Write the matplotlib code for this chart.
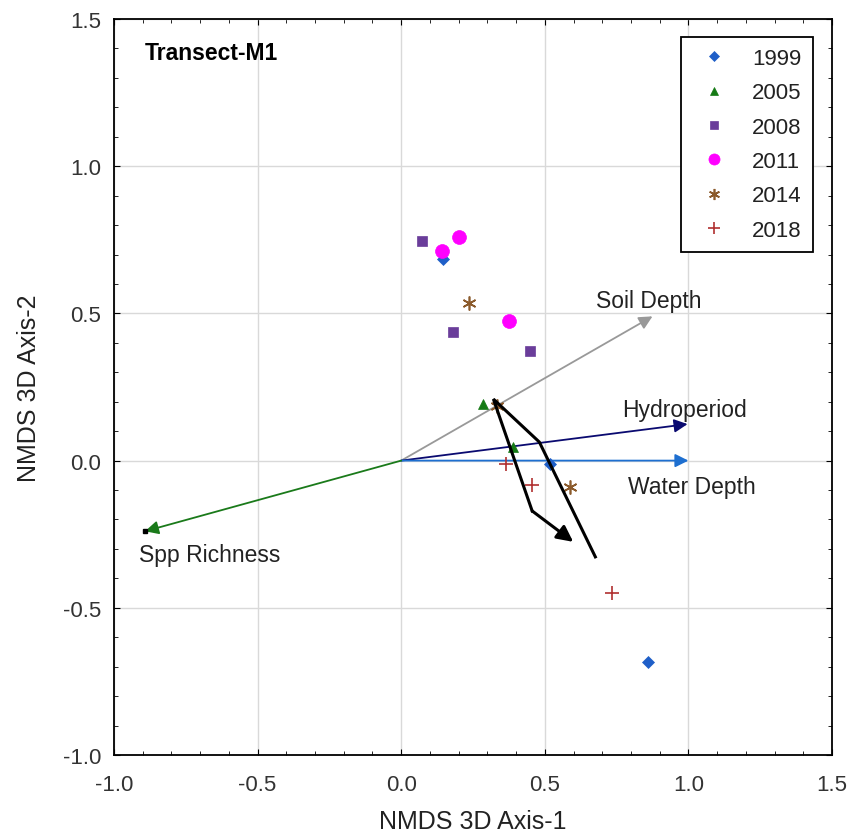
import matplotlib
matplotlib.use("Agg")
import matplotlib.pyplot as plt
from matplotlib.ticker import MultipleLocator

plt.rcParams['font.family'] = ['Liberation Sans', 'DejaVu Sans']
plt.rcParams['axes.unicode_minus'] = False

# ---- data ----
years = ['1999', '2005', '2008', '2011', '2014', '2018']
x_1999 = [0.146, 0.519, 0.861]
y_1999 = [0.684, -0.012, -0.684]
x_2005 = [0.286, 0.390]
y_2005 = [0.192, 0.046]
x_2008 = [0.073, 0.181, 0.449]
y_2008 = [0.746, 0.437, 0.372]
x_2011 = [0.143, 0.202, 0.376]
y_2011 = [0.712, 0.760, 0.474]
x_2014 = [0.237, 0.334, 0.589]
y_2014 = [0.535, 0.186, -0.090]
x_2018 = [0.366, 0.456, 0.735]
y_2018 = [-0.011, -0.083, -0.450]

vec_names = ['Soil Depth', 'Hydroperiod', 'Water Depth', 'Spp Richness']
vec_x = [0.875, 0.997, 1.0, -0.892]
vec_y = [0.490, 0.124, 0.0, -0.240]
label_x = [0.68, 0.77, 0.79, -0.913]
label_y = [0.543, 0.175, -0.087, -0.320]

traj_x = [0.676, 0.481, 0.321, 0.456, 0.599]
traj_y = [-0.327, 0.063, 0.209, -0.171, -0.276]

# ---- styles ----
colors = ['#1f5fc8', '#157a15', '#6a3d9a', '#ff00ff', '#8b5a2b', '#b03030']
markers = ['D', '^', 's', 'o', (6, 2, 0), '+']
msizes = [6, 7, 7, 10, 10, 10]
vec_colors = ['#999999', '#0a0a70', '#1e6fd0', '#1a7a1a']

fig = plt.figure(figsize=(8.52, 8.37), dpi=100)
ax = fig.add_axes([114/852, 1-756/837, (832-114)/852, (756-20)/837])

ax.set_xlim(-1.0, 1.5)
ax.set_ylim(-1.0, 1.5)
ax.xaxis.set_major_locator(MultipleLocator(0.5))
ax.yaxis.set_major_locator(MultipleLocator(0.5))
ax.xaxis.set_minor_locator(MultipleLocator(0.1))
ax.yaxis.set_minor_locator(MultipleLocator(0.1))
ax.grid(True, which='major', color='#d9d9d9', linewidth=1.0)
ax.set_axisbelow(True)
ax.tick_params(which='both', direction='in', top=True, right=True,
               labelsize=16, labelcolor='#333333')
ax.tick_params(axis='x', which='both', pad=14)
ax.tick_params(axis='y', which='both', pad=9)
ax.tick_params(which='major', length=4)
ax.tick_params(which='minor', length=3)
for s in ax.spines.values():
    s.set_linewidth(1.3)

# vectors
for name, vx, vy, lx, ly, c in zip(vec_names, vec_x, vec_y, label_x, label_y, vec_colors):
    ax.annotate('', xy=(vx, vy), xytext=(0, 0),
                arrowprops=dict(arrowstyle='-|>', color=c, lw=1.3,
                                mutation_scale=20, shrinkA=0, shrinkB=0))
    ax.text(lx, ly, name, fontsize=16.5, color='#222222', ha='left', va='center')
ax.plot([vec_x[3]], [vec_y[3]], marker='s', color='black', ms=3, zorder=5)

# points
xs = [x_1999, x_2005, x_2008, x_2011, x_2014, x_2018]
ys = [y_1999, y_2005, y_2008, y_2011, y_2014, y_2018]
for yr, x, y, c, m, s in zip(years, xs, ys, colors, markers, msizes):
    ax.plot(x, y, linestyle='none', marker=m, color=c, ms=s,
            markeredgewidth=1.2 if m in ['+', (6, 2, 0)] else 0.5, label=yr, zorder=4)

# trajectory
ax.plot(traj_x[:-1], traj_y[:-1], color='black', lw=2.2, zorder=6, solid_joinstyle='miter')
ax.annotate('', xy=(traj_x[-1], traj_y[-1]), xytext=(traj_x[-2], traj_y[-2]),
            arrowprops=dict(arrowstyle='-|>', color='black', lw=2.2,
                            mutation_scale=24, shrinkA=0, shrinkB=0), zorder=6)

ax.text(-0.892, 1.385, 'Transect-M1', fontsize=16.5, fontweight='bold', ha='left', va='center')

leg = ax.legend(loc='upper right', bbox_to_anchor=(0.9735, 0.9755), borderaxespad=0,
                fontsize=16, frameon=True, fancybox=False, edgecolor='black', framealpha=1,
                handletextpad=0.7, labelspacing=0.6, borderpad=0.5, handlelength=2.0,
                markerscale=0.8)
leg.get_frame().set_linewidth(1.3)
for t in leg.get_texts():
    t.set_color('#222222')

ax.set_xlabel('NMDS 3D Axis-1', fontsize=18, color='#222222', labelpad=10)
ax.set_ylabel('NMDS 3D Axis-2', fontsize=18, color='#222222', labelpad=16)

fig.savefig('out.png', dpi=100)
